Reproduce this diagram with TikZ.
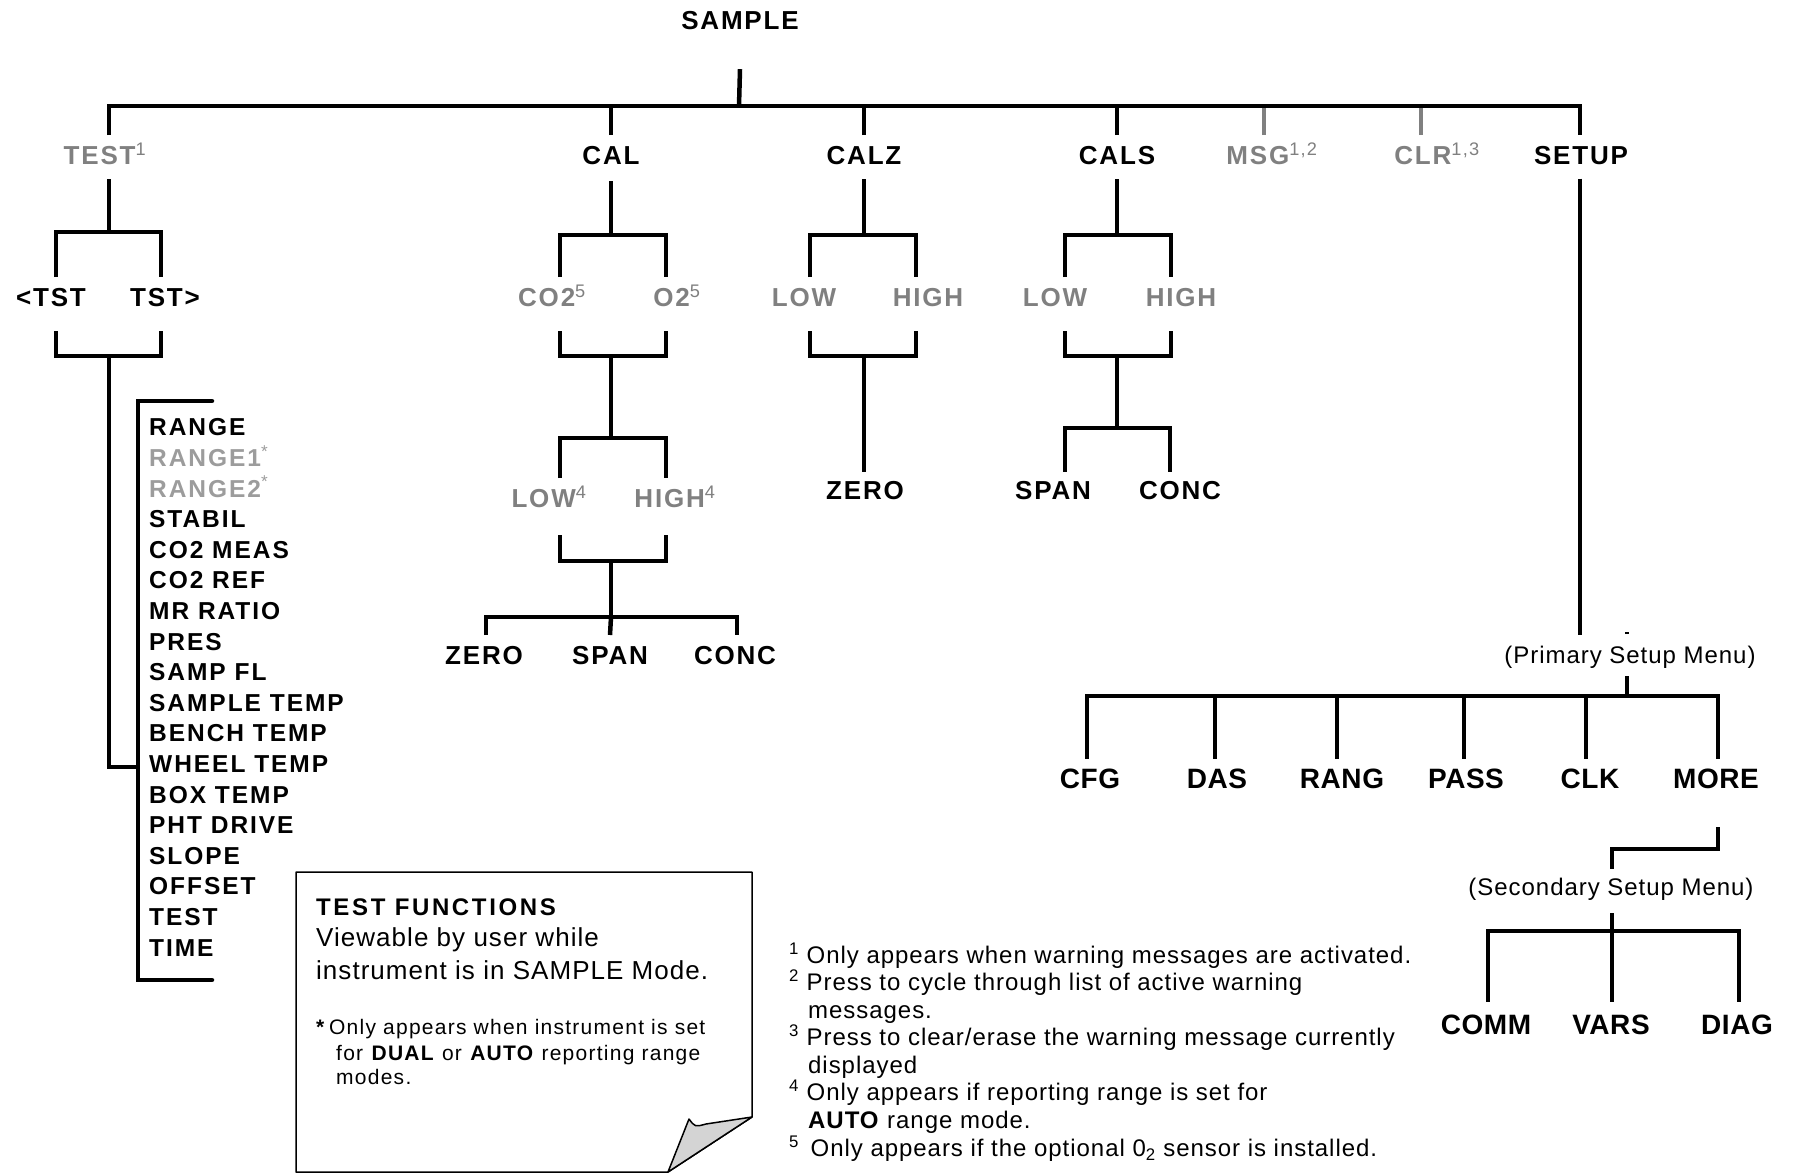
\documentclass[tikz,border=0pt]{standalone}
\usepackage{fontspec}
\setmainfont{Liberation Sans}
\newfontfamily\lblfont[LetterSpace=7]{Liberation Sans}
\newfontfamily\lstfont[LetterSpace=8]{Liberation Sans}
\newfontfamily\titlefont[LetterSpace=11]{Liberation Sans}
\newfontfamily\setfont[LetterSpace=2]{Liberation Sans}
\newfontfamily\menufont[LetterSpace=4]{Liberation Sans}
\newfontfamily\notefont[LetterSpace=4]{Liberation Sans}
\newfontfamily\boxfont[LetterSpace=6]{Liberation Sans}
\usetikzlibrary{calc}
\definecolor{dim}{HTML}{808080}
\definecolor{dimlist}{HTML}{9c9c9c}
\definecolor{flap}{HTML}{d4d4d4}
\newcommand{\supnum}[1]{\textsuperscript{\mdseries#1}}
\tikzset{lbl/.style={font=\lblfont\bfseries\fontsize{26}{30}\selectfont, inner sep=0pt, text height=18.6pt, text depth=0pt},
         dlbl/.style={lbl, text=dim},
         slbl/.style={font=\setfont\bfseries\fontsize{28}{32}\selectfont, inner sep=0pt, text height=20pt, text depth=0pt},
         item/.style={font=\lstfont\bfseries\fontsize{24.5}{28}\selectfont, inner sep=0pt, anchor=west, text height=17.6pt, text depth=0pt},
         menu/.style={font=\menufont\fontsize{24}{28}\selectfont, inner sep=0pt, text height=17.2pt, text depth=0pt},
         fn/.style={font=\notefont\fontsize{24}{28}\selectfont, inner sep=0pt, anchor=west, text height=17.2pt, text depth=0pt},
         boxtitle/.style={font=\titlefont\bfseries\fontsize{24}{28}\selectfont, inner sep=0pt, anchor=west, text height=17.2pt, text depth=0pt},
         boxtxt/.style={font=\notefont\fontsize{26}{30}\selectfont, inner sep=0pt, anchor=west, text height=18.6pt, text depth=0pt},
         boxnote/.style={font=\boxfont\fontsize{21}{25}\selectfont, inner sep=0pt, anchor=west, text height=15pt, text depth=0pt},
         ln/.style={line width=4.5pt},
         dln/.style={line width=4pt, dim}}
\begin{document}
\begin{tikzpicture}[x=1pt, y=-1pt]
\useasboundingbox (0,0) rectangle (1800,1173);
% top level
\node[lbl] (sample) at (740,20) {SAMPLE};
\node[dlbl] (test) at (105,155) {TEST\supnum{1}};
\node[lbl] (cal) at (611,155) {CAL};
\node[lbl] (calz) at (864,155) {CALZ};
\node[lbl] (cals) at (1117,155) {CALS};
\node[dlbl] (msg) at (1272,155) {MSG\supnum{1,2}};
\node[dlbl] (clr) at (1437,155) {CLR\supnum{1,3}};
\node[lbl] (setup) at (1581,155) {SETUP};
\coordinate (topj) at (739,106);
\draw[dln] ([xshift=-8pt,yshift=10.5pt]msg.north) -- ++(0,-29);
\draw[dln] ([xshift=-16pt,yshift=10.5pt]clr.north) -- ++(0,-29);
\draw[ln] ([yshift=-39.7pt]sample.south) -- (topj);
\draw[ln] ([xshift=4pt,yshift=10.5pt]test.north) |- (topj) -| ([xshift=-1pt,yshift=10.5pt]setup.north);
\foreach \n in {cal,calz,cals} {\draw[ln] ([yshift=10.5pt]\n.north) -- (\n.north |- topj);}
% TEST branch
\node[lbl] (ltst) at (51,297) {<TST};
\node[lbl] (rtst) at (165,297) {TST>};
\coordinate (testj) at (109,232); \coordinate (testk) at (109,356); \coordinate (listj) at (138,767);
\draw[ln] ([xshift=5pt,yshift=10.5pt]ltst.north) |- (testj) -| ([xshift=-4pt,yshift=10.5pt]rtst.north);
\draw[ln] (testj) -- ([xshift=4pt,yshift=-14pt]test.south);
\draw[ln] ([xshift=5pt,yshift=-24.5pt]ltst.south) |- (testk) -| ([xshift=-4pt,yshift=-24.5pt]rtst.south);
\draw[ln] (testk) |- (listj);
\draw[ln, line cap=round] (212,401) -- (138,401) -- (138,980) -- (212,980);
\foreach \txt/\col [count=\i] in {RANGE/black, {RANGE1\supnum{*}}/dimlist, {RANGE2\supnum{*}}/dimlist, STABIL/black, CO2 MEAS/black, CO2 REF/black, MR RATIO/black, PRES/black, SAMP FL/black, SAMPLE TEMP/black, BENCH TEMP/black, WHEEL TEMP/black, BOX TEMP/black, PHT DRIVE/black, SLOPE/black, OFFSET/black, TEST/black, TIME/black}
  {\node[item, text=\col] (t\i) at (149,{427+30.6*(\i-1)}) {\txt};}
% CAL branch
\node[dlbl] (co2) at (552,297) {CO2\supnum{5}};
\node[dlbl] (o2) at (677,297) {O2\supnum{5}};
\node[dlbl] (low4) at (549,498) {LOW\supnum{4}};
\node[dlbl] (high4) at (675,498) {HIGH\supnum{4}};
\node[lbl] (zero) at (484,655) {ZERO};
\node[lbl] (span) at (610,655) {SPAN};
\node[lbl] (conc) at (735,655) {CONC};
\coordinate (calj) at (611,235); \coordinate (calk) at (611,356); \coordinate (call) at (611,438);
\coordinate (calm) at (611,561); \coordinate (caln) at (611,617);
\draw[ln] ([xshift=8pt,yshift=10.5pt]co2.north) |- (calj) -| ([xshift=-11pt,yshift=10.5pt]o2.north);
\draw[ln] (calj) -- ([yshift=-16pt]cal.south);
\draw[ln] ([xshift=8pt,yshift=-24.5pt]co2.south) |- (calk) -| ([xshift=-11pt,yshift=-24.5pt]o2.south);
\draw[ln] (calk) -- (call);
\draw[ln] ([xshift=11pt,yshift=10.5pt]low4.north) |- (call) -| ([xshift=-9pt,yshift=10.5pt]high4.north);
\draw[ln] ([xshift=11pt,yshift=-27.5pt]low4.south) |- (calm) -| ([xshift=-9pt,yshift=-27.5pt]high4.south);
\draw[ln] (calm) -- (caln);
\draw[ln] ([xshift=2pt,yshift=10.5pt]zero.north) |- (caln) -| ([xshift=2pt,yshift=10.5pt]conc.north);
\draw[ln] (caln) -- ([yshift=10.5pt]span.north);
% CALZ branch
\node[dlbl] (zlow) at (804,297) {LOW};
\node[dlbl] (zhigh) at (928,297) {HIGH};
\node[lbl] (zzero) at (865,490) {ZERO};
\coordinate (calzj) at (864,235); \coordinate (calzk) at (864,356);
\draw[ln] ([xshift=6pt,yshift=10.5pt]zlow.north) |- (calzj) -| ([xshift=-12pt,yshift=10.5pt]zhigh.north);
\draw[ln] (calzj) -- ([yshift=-14pt]calz.south);
\draw[ln] ([xshift=6pt,yshift=-24.5pt]zlow.south) |- (calzk) -| ([xshift=-12pt,yshift=-24.5pt]zhigh.south);
\draw[ln] (calzk) -- ([xshift=-1pt,yshift=8.7pt]zzero.north);
% CALS branch
\node[dlbl] (slow) at (1055,297) {LOW};
\node[dlbl] (shigh) at (1181,297) {HIGH};
\node[lbl] (sspan) at (1053,490) {SPAN};
\node[lbl] (sconc) at (1180,490) {CONC};
\coordinate (calsj) at (1117,235); \coordinate (calsk) at (1117,356); \coordinate (calsl) at (1117,428);
\draw[ln] ([xshift=10pt,yshift=10.5pt]slow.north) |- (calsj) -| ([xshift=-10pt,yshift=10.5pt]shigh.north);
\draw[ln] (calsj) -- ([yshift=-14pt]cals.south);
\draw[ln] ([xshift=10pt,yshift=-24.5pt]slow.south) |- (calsk) -| ([xshift=-10pt,yshift=-24.5pt]shigh.south);
\draw[ln] (calsk) -- (calsl);
\draw[ln] ([xshift=12pt,yshift=8.7pt]sspan.north) |- (calsl) -| ([xshift=-10pt,yshift=8.7pt]sconc.north);
% SETUP branch
\node[menu] (prim) at (1630,655) {(Primary Setup Menu)};
\node[slbl] (cfg) at (1090,778) {CFG};
\node[slbl] (das) at (1217,778) {DAS};
\node[slbl] (rang) at (1342,778) {RANG};
\node[slbl] (pass) at (1466,778) {PASS};
\node[slbl] (clk) at (1590,778) {CLK};
\node[slbl] (more) at (1716,778) {MORE};
\node[menu] (sec) at (1611,887) {(Secondary Setup Menu)};
\node[slbl] (comm) at (1486,1024) {COMM};
\node[slbl] (vars) at (1611,1024) {VARS};
\node[slbl] (diag) at (1737,1024) {DIAG};
\coordinate (primj) at (1627,696); \coordinate (morej) at (1612,849); \coordinate (secj) at (1612,931);
\draw[ln] ([xshift=-1pt,yshift=-14pt]setup.south) -- ([xshift=-50pt,yshift=11.4pt]prim.north);
\draw[line width=2pt] (1625,633) -- (1629,633);
\draw[ln] ([xshift=-3pt,yshift=-12.4pt]prim.south) -- (primj);
\draw[ln] ([xshift=-3pt,yshift=9pt]cfg.north) |- (primj) -| ([xshift=2pt,yshift=9pt]more.north);
\foreach \n/\dx in {das/-2,rang/-5,pass/-2,clk/-4} {\draw[ln] ([xshift=\dx pt,yshift=9pt]\n.north) -- ++(0,-62);}
\draw[ln] ([xshift=2pt,yshift=-39pt]more.south) |- (morej) -- ([xshift=1pt,yshift=9.4pt]sec.north);
\draw[ln] ([xshift=1pt,yshift=-17.4pt]sec.south) -- ([xshift=1pt,yshift=12pt]vars.north);
\draw[ln] ([xshift=2pt,yshift=12pt]comm.north) |- (secj) -| ([xshift=2pt,yshift=12pt]diag.north);
% note sheet
\draw[line width=1.5pt, line join=round] (296,872) -- (752,872) -- (752,1117) -- (668,1172) -- (296,1172) -- cycle;
\filldraw[fill=flap, line width=1.5pt, line join=round] (689,1119) .. controls (695,1127) .. (706,1124) -- (752,1117) -- (668,1172) -- cycle;
\node[boxtitle] (bt) at (316,907) {TEST FUNCTIONS};
\node[boxtxt] (b1) at (316,937) {Viewable by user while};
\node[boxtxt] (b2) at (316,970) {instrument is in SAMPLE Mode.};
\node[boxnote] (n1) at (316,1027) {\textbf{*}\,Only appears when instrument is set};
\node[boxnote] (n2) at (336,1053) {for \textbf{DUAL} or \textbf{AUTO} reporting range};
\node[boxnote] (n3) at (336,1077) {modes.};
% footnotes
\node[fn] (f1) at (789,955) {\supnum{1} Only appears when warning messages are activated.};
\node[fn] (f2) at (789,982) {\supnum{2} Press to cycle through list of active warning};
\node[fn] (f2b) at (808,1010) {messages.};
\node[fn] (f3) at (789,1037) {\supnum{3} Press to clear/erase the warning message currently};
\node[fn] (f3b) at (808,1065) {displayed};
\node[fn] (f4) at (789,1092) {\supnum{4} Only appears if reporting range is set for};
\node[fn] (f4b) at (808,1120) {\textbf{AUTO} range mode.};
\node[fn] (f5) at (789,1148) {\supnum{5}\hspace{4pt} Only appears if the optional 0\textsubscript{2} sensor is installed.};
\end{tikzpicture}
\end{document}
